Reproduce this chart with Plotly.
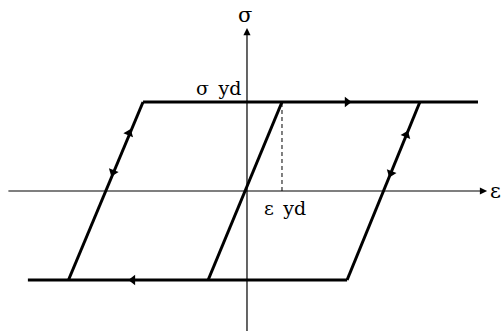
import plotly.graph_objects as go

# branches of the hysteresis loop (strain in eps_yd, stress in sigma_yd)
top_eps = [-2.97, 6.6]
top_sig = [1, 1]
bottom_eps = [-6.26, 2.86]
bottom_sig = [-1, -1]
left_eps = [-5.1, -2.97]
left_sig = [-1, 1]
middle_eps = [-1.11, 1.0]
middle_sig = [-1, 1]
right_eps = [2.86, 4.94]
right_sig = [-1, 1]

# yield strain guide
dash_eps = [1.0, 1.0]
dash_sig = [0, 1]

# direction markers: (eps, sigma, symbol, angle)
arrow_eps = [2.86, -3.26, -3.37, -3.83, 4.55, 4.11]
arrow_sig = [1, -1, 0.65, 0.21, 0.63, 0.20]
arrow_sym = ["triangle-right", "triangle-left", "triangle-up", "triangle-down", "triangle-up", "triangle-down"]
arrow_ang = [0, 0, 21.5, 21.5, 21.5, 21.5]

fig = go.Figure()

xs, ys = [], []
for e, s in [(bottom_eps, bottom_sig), (right_eps, right_sig), (top_eps, top_sig),
             (left_eps, left_sig), (middle_eps, middle_sig)]:
    xs += e + [None]
    ys += s + [None]
fig.add_trace(go.Scatter(x=xs, y=ys, mode="lines", line=dict(color="black", width=3),
                         hoverinfo="skip"))
fig.add_trace(go.Scatter(x=dash_eps, y=dash_sig, mode="lines",
                         line=dict(color="black", width=1, dash="4px,3px"), hoverinfo="skip"))
fig.add_trace(go.Scatter(x=arrow_eps, y=arrow_sig, mode="markers", hoverinfo="skip",
                         marker=dict(symbol=arrow_sym, angle=arrow_ang, size=9, color="black")))

# coordinate axes with arrow heads
fig.add_annotation(x=6.86, y=0, ax=-6.86, ay=0, xref="x", yref="y", axref="x", ayref="y",
                   text="", showarrow=True, arrowhead=2, arrowsize=1.2, arrowwidth=1.2,
                   arrowcolor="black")
fig.add_annotation(x=0, y=1.83, ax=0, ay=-1.6, xref="x", yref="y", axref="x", ayref="y",
                   text="", showarrow=True, arrowhead=2, arrowsize=1.2, arrowwidth=1.2,
                   arrowcolor="black")

font = dict(family="DejaVu Serif", size=19, color="black")
big = dict(family="DejaVu Serif", size=21, color="black")
fig.add_annotation(x=-0.06, y=1.98, text="σ", showarrow=False, font=big)
fig.add_annotation(x=7.11, y=0, text="ε", showarrow=False, font=big)
fig.add_annotation(x=-0.1, y=1.16, text="σ\u2002yd", showarrow=False, xanchor="right", font=font)
fig.add_annotation(x=0.43, y=-0.19, text="ε\u2002yd", showarrow=False, xanchor="left", font=font)

fig.update_xaxes(range=[-7.057, 7.286], visible=False)
fig.update_yaxes(range=[-1.573, 2.146], visible=False)
fig.update_layout(width=502, height=331, autosize=False, showlegend=False,
                  margin=dict(l=0, r=0, t=0, b=0),
                  plot_bgcolor="white", paper_bgcolor="white")

# drop the default page margin so the figure fills the window exactly
fig.write_html("out.html", config={"displayModeBar": False},
               post_script="document.body.style.margin='0';")
